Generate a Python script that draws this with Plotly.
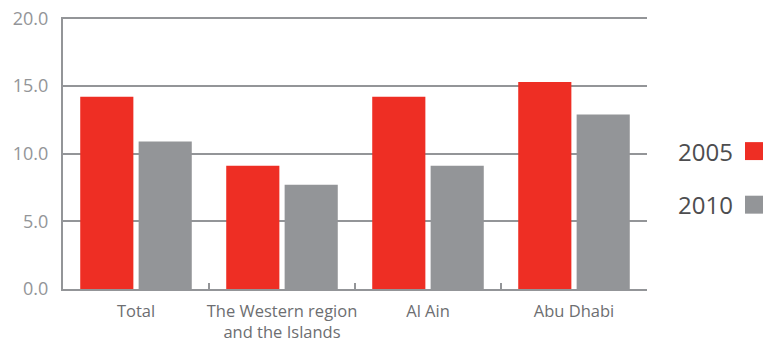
import plotly.graph_objects as go

categories = ["Total", "The Western region<br>and the Islands", "Al Ain", "Abu Dhabi"]
values_2005 = [14.2, 9.1, 14.2, 15.3]
values_2010 = [10.9, 7.7, 9.1, 12.9]
series_names = ["2005", "2010"]
y_ticks = [0, 5, 10, 15, 20]
y_ticklabels = ["0.0", "5.0", "10.0", "15.0", "20.0"]

RED = "#EE2E24"
GRAY = "#939598"
AXIS = "#939598"
FONT = "Open Sans"

fig = go.Figure()
fig.add_trace(go.Bar(x=categories, y=values_2005, name=series_names[0], marker_color=RED,
                     marker_line_width=0, showlegend=False))
fig.add_trace(go.Bar(x=categories, y=values_2010, name=series_names[1], marker_color=GRAY,
                     marker_line_width=0, showlegend=False))

fig.update_layout(
    width=763, height=343,
    margin=dict(l=63, r=116, t=17, b=54, autoexpand=False),
    paper_bgcolor="white", plot_bgcolor="white",
    barmode="group", bargap=0.2, bargroupgap=0.09,
    font=dict(family=FONT),
)
fig.update_xaxes(
    showline=True, linecolor=AXIS, linewidth=2,
    ticks="inside", tickson="boundaries", ticklen=6, tickwidth=2, tickcolor=AXIS,
    tickangle=0, automargin=False, ticklabelstandoff=6,
    tickfont=dict(size=16.5, color="#6d6e71", family=FONT),
    showgrid=False,
)
fig.update_yaxes(
    range=[0, 20.1], tickvals=y_ticks, ticktext=y_ticklabels,
    showline=True, linecolor=AXIS, linewidth=2, automargin=False,
    showgrid=True, gridcolor=AXIS, gridwidth=2, zeroline=False,
    ticks="", ticklabelstandoff=9,
    tickfont=dict(size=18, color="#939598", family=FONT),
)

# custom legend: text on the left, swatch on the right
legend_rows = [(series_names[0], RED, 0.507), (series_names[1], GRAY, 0.31)]
for name, color, yc in legend_rows:
    fig.add_annotation(xref="paper", yref="paper", x=1.1507, y=yc, text=name,
                       showarrow=False, xanchor="right", yanchor="middle",
                       font=dict(size=24, color="#4d4d4f", family=FONT))
    fig.add_shape(type="rect", xref="paper", yref="paper",
                  x0=1.1678, x1=1.1986, y0=yc - 0.033, y1=yc + 0.033,
                  fillcolor=color, line=dict(width=0))

fig.write_html("out.html")
